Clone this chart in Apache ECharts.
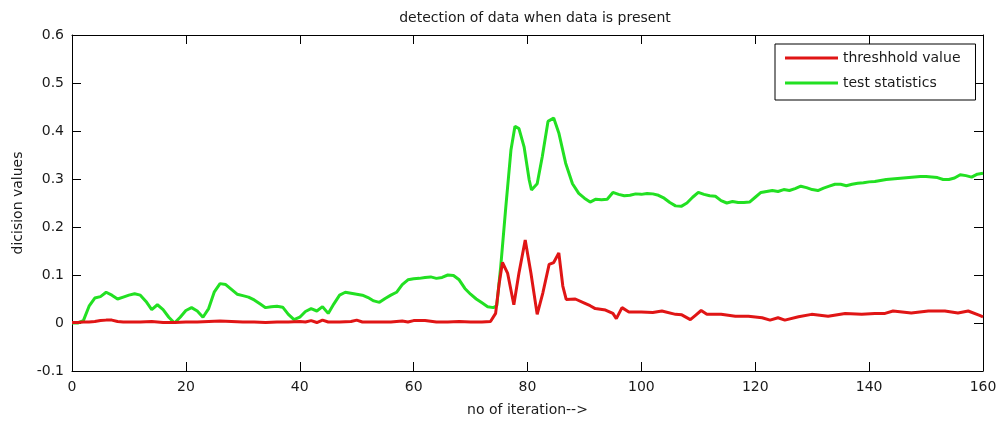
<!DOCTYPE html>
<html>
<head>
<meta charset="utf-8">
<script src="https://cdn.jsdelivr.net/npm/echarts@6/dist/echarts.min.js"></script>
<style>html,body{margin:0;padding:0;background:#fff}#c{width:1000px;height:422px}</style>
</head>
<body>
<div id="c"></div>
<script>
const chartTitle = "detection of data when data is present";
const xName = "no of iteration-->";
const yName = "dicision values";
const seriesNames = ["threshhold value", "test statistics"];
const xTicks = [0, 20, 40, 60, 80, 100, 120, 140, 160];
const yTicks = [-0.1, 0, 0.1, 0.2, 0.3, 0.4, 0.5, 0.6];

const threshIter = [0,1,2,3,4,5,6,7,8,9,10,12,14,16,18,20,22,24,26,28,30,32,34,36,38,40,41,42,43,44,45,47,49,50,51,54,56,58,59,60,62,64,66,68,70,72,73.5,74.4,75,75.6,76.5,77.6,78.5,79.6,80.6,81.7,82.7,83.8,84.6,85.5,86.2,86.8,88.4,89.9,91,91.9,93.7,95,95.6,96.6,97.8,100,102,103.6,106,107.1,108.6,109.5,110.5,111.5,114,116.5,118.8,121.2,122.6,124,125.2,127.6,129.9,132.8,135.8,138.7,141,142.8,144.2,147.4,150.4,153.3,155.6,157.4,159.4,160];
const threshVal = [0.001,0.001,0.002,0.002,0.003,0.005,0.006,0.006,0.003,0.002,0.002,0.002,0.003,0.001,0.001,0.002,0.002,0.003,0.004,0.003,0.002,0.002,0.001,0.002,0.002,0.003,0.002,0.005,0.001,0.006,0.002,0.002,0.003,0.006,0.002,0.002,0.002,0.004,0.002,0.005,0.005,0.002,0.002,0.003,0.002,0.002,0.003,0.02,0.08,0.126,0.104,0.038,0.104,0.173,0.104,0.018,0.063,0.122,0.126,0.146,0.077,0.049,0.05,0.042,0.036,0.03,0.027,0.02,0.009,0.032,0.023,0.023,0.022,0.025,0.018,0.017,0.007,0.016,0.026,0.018,0.018,0.014,0.014,0.011,0.006,0.011,0.006,0.013,0.018,0.014,0.02,0.018,0.02,0.02,0.025,0.021,0.025,0.025,0.021,0.025,0.016,0.013];

const testIter = [0,1,2,3,4,5,6,7,8,9,10,11,12,13,14,15,16,17,18,19,20,21,22,23,24,25,26,27,28,29,30,31,32,33,34,35,36,37,38,39,40,41,42,43,44,45,46,47,48,49,50,51,52,53,54,55,56,57,58,59,60,61,62,63,64,65,66,67,68,69,70,71,72,73,74,74.6,75.3,76.2,77.1,77.8,78.5,79.4,80.3,80.7,81.7,82.6,83.6,84.6,85.5,86.7,87.9,89,90,91,92,93,94,95,96,97,98,99,100,101,102,103,104,105,106,107,108,109,110,111,112,113,114,115,116,117,118,119,120,121,122,123,124,125,126,127,128,129,130,131,132,133,134,135,136,137,138,139,140,141,142,143,144,145,146,147,148,149,150,151,152,153,154,155,156,157,158,159,160];
const testVal = [0,0,0.005,0.035,0.052,0.055,0.064,0.058,0.05,0.054,0.058,0.061,0.058,0.045,0.028,0.038,0.028,0.012,0,0.012,0.026,0.032,0.025,0.012,0.03,0.065,0.082,0.08,0.07,0.06,0.057,0.054,0.048,0.04,0.032,0.034,0.035,0.033,0.018,0.007,0.012,0.024,0.03,0.025,0.034,0.02,0.04,0.058,0.064,0.062,0.06,0.058,0.053,0.046,0.043,0.051,0.058,0.064,0.08,0.09,0.092,0.093,0.095,0.096,0.093,0.095,0.1,0.099,0.09,0.072,0.06,0.05,0.042,0.034,0.032,0.036,0.118,0.243,0.361,0.41,0.405,0.367,0.298,0.277,0.29,0.347,0.42,0.427,0.396,0.333,0.29,0.27,0.26,0.252,0.258,0.257,0.258,0.272,0.268,0.265,0.266,0.269,0.268,0.27,0.269,0.266,0.26,0.251,0.244,0.243,0.25,0.262,0.272,0.268,0.265,0.264,0.255,0.25,0.253,0.251,0.251,0.252,0.262,0.272,0.274,0.276,0.274,0.278,0.276,0.28,0.285,0.282,0.278,0.276,0.281,0.285,0.289,0.289,0.286,0.289,0.291,0.292,0.294,0.295,0.297,0.299,0.3,0.301,0.302,0.303,0.304,0.305,0.305,0.304,0.303,0.299,0.299,0.302,0.309,0.307,0.304,0.31,0.312];

const pairs = (xs, ys) => xs.map((x, i) => [x, ys[i]]);
const font = "DejaVu Sans, sans-serif";
const txt = '#1a1a1a';
const chart = echarts.init(document.getElementById('c'));
const tickStyle = {show: true, inside: true, length: 9, lineStyle: {color: '#000', width: 1}};
const lineStyleAxis = {show: true, onZero: false, lineStyle: {color: '#000', width: 1}};
chart.setOption({
  animation: false,
  backgroundColor: '#fff',
  title: {text: chartTitle, left: 530, top: 6, textAlign: 'center',
    textStyle: {fontFamily: font, fontSize: 14, fontWeight: 'normal', color: txt}},
  grid: {left: 72, right: 17, top: 35, bottom: 50, containLabel: false},
  legend: {
    data: seriesNames, orient: 'vertical', left: 775, top: 44,
    padding: [5, 15, 8, 10], itemGap: 7,
    borderColor: '#000', borderWidth: 1, backgroundColor: '#fff',
    icon: 'rect', itemWidth: 53, itemHeight: 3,
    textStyle: {fontFamily: font, fontSize: 14, color: txt, lineHeight: 18}
  },
  xAxis: [{
    type: 'value', min: xTicks[0], max: xTicks[xTicks.length - 1], interval: 20,
    name: xName, nameLocation: 'middle', nameGap: 32,
    nameTextStyle: {fontFamily: font, fontSize: 14, color: txt},
    axisLine: lineStyleAxis, axisTick: tickStyle, splitLine: {show: false},
    axisLabel: {fontFamily: font, fontSize: 14, color: txt, margin: 9}
  }, {
    type: 'value', position: 'top', min: xTicks[0], max: xTicks[xTicks.length - 1], interval: 20,
    axisLine: lineStyleAxis, axisTick: tickStyle, axisLabel: {show: false}, splitLine: {show: false}
  }],
  yAxis: [{
    type: 'value', min: yTicks[0], max: yTicks[yTicks.length - 1], interval: 0.1,
    name: yName, nameLocation: 'middle', nameGap: 47, nameRotate: 90,
    nameTextStyle: {fontFamily: font, fontSize: 14, color: txt},
    axisLine: lineStyleAxis, axisTick: tickStyle, splitLine: {show: false},
    axisLabel: {fontFamily: font, fontSize: 14, color: txt, margin: 8,
      formatter: v => String(Math.round(v * 10) / 10)}
  }, {
    type: 'value', position: 'right', min: yTicks[0], max: yTicks[yTicks.length - 1], interval: 0.1,
    axisLine: lineStyleAxis, axisTick: tickStyle, axisLabel: {show: false}, splitLine: {show: false}
  }],
  series: [{
    name: seriesNames[0], type: 'line', data: pairs(threshIter, threshVal),
    showSymbol: false, symbol: 'none', lineStyle: {color: '#e01515', width: 3},
    itemStyle: {color: '#e01515'}, z: 3
  }, {
    name: seriesNames[1], type: 'line', data: pairs(testIter, testVal),
    showSymbol: false, symbol: 'none', lineStyle: {color: '#22e022', width: 3},
    itemStyle: {color: '#22e022'}, z: 2
  }]
});
</script>
</body>
</html>
